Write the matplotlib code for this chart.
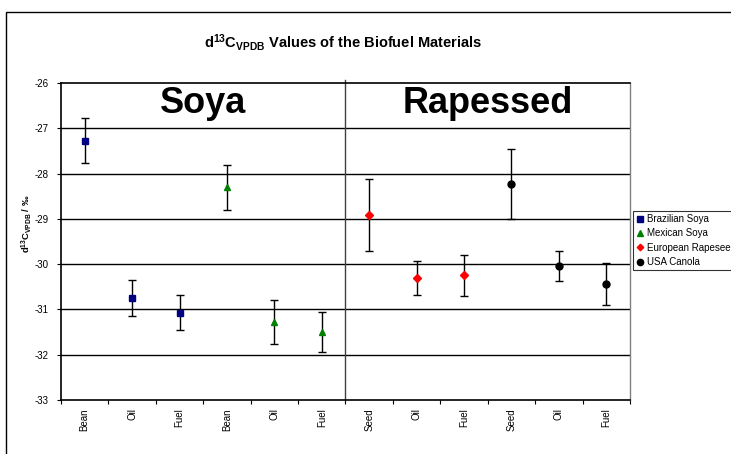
import matplotlib
matplotlib.use("Agg")
import matplotlib.pyplot as plt
from matplotlib.patches import Rectangle
from matplotlib.lines import Line2D

plt.rcParams['font.family'] = ['Liberation Sans', 'DejaVu Sans']
plt.rcParams['mathtext.fontset'] = 'custom'
plt.rcParams['mathtext.rm'] = 'Liberation Sans'
plt.rcParams['mathtext.it'] = 'Liberation Sans:italic'
plt.rcParams['mathtext.bf'] = 'Liberation Sans:bold'

categories = ['Bean', 'Oil', 'Fuel', 'Bean', 'Oil', 'Fuel',
              'Seed', 'Oil', 'Fuel', 'Seed', 'Oil', 'Fuel']

series_names = ['Brazilian Soya', 'Mexican Soya', 'European Rapeseed', 'USA Canola']
brazil_vals = [-27.27, -30.74, -31.07]
brazil_err = [0.50, 0.40, 0.39]
mexico_vals = [-28.30, -31.28, -31.49]
mexico_err = [0.50, 0.48, 0.44]
europe_vals = [-28.91, -30.31, -30.25]
europe_err = [0.80, 0.38, 0.46]
usa_vals = [-28.23, -30.04, -30.44]
usa_err = [0.77, 0.34, 0.47]

group_labels = ['Soya', 'Rapessed']
y_ticks = [-33, -32, -31, -30, -29, -28, -27, -26]

fig = plt.figure(figsize=(7.31, 4.54), dpi=100)
fig.patches.append(Rectangle((6/731, -0.1), 1.2, 1 - 12/454 + 0.1, transform=fig.transFigure,
                             fill=False, edgecolor='black', linewidth=1.0))

ax = fig.add_axes([61/731, 54/454, 569/731, 317/454])

styles = [
    dict(marker='s', color='#000080', ms=5),
    dict(marker='^', color='#008000', ms=5),
    dict(marker='D', color='#FF0000', ms=3.8),
    dict(marker='o', color='black', ms=5),
]
vals = [brazil_vals, mexico_vals, europe_vals, usa_vals]
errs = [brazil_err, mexico_err, europe_err, usa_err]

handles = []
for i, (v, e, st, name) in enumerate(zip(vals, errs, styles, series_names)):
    xs = [i * 3 + k for k in range(len(v))]
    ax.errorbar(xs, v, yerr=e, fmt='none', ecolor='black', elinewidth=1.0,
                capsize=3, capthick=1.0, zorder=3)
    ax.plot(xs, v, linestyle='none', marker=st['marker'], color=st['color'],
            markersize=st['ms'], zorder=4)
    handles.append(Line2D([], [], linestyle='none', marker=st['marker'], color=st['color'],
                          markersize=st['ms'] - 0.5, label=name))

ax.set_xlim(-0.5, len(categories) - 0.5)
ax.set_ylim(-33, -26)
ax.set_yticks(y_ticks)
ax.set_yticklabels([str(t) for t in y_ticks], fontsize=7)
for t in y_ticks[1:-1]:
    ax.axhline(t, color='black', linewidth=1.0, zorder=1)

ax.set_xticks([i - 0.5 for i in range(len(categories) + 1)])
ax.set_xticklabels([])
ax.set_xticks(range(len(categories)), minor=True)
ax.set_xticklabels(categories, minor=True, rotation=90, fontsize=7)
ax.tick_params(axis='x', which='minor', length=0, pad=6)
ax.tick_params(axis='x', which='major', direction='out', length=3, width=0.8)
ax.tick_params(axis='y', direction='out', length=3, width=0.8, pad=6)

for s in ['top', 'left', 'bottom']:
    ax.spines[s].set_color('black')
    ax.spines[s].set_linewidth(1.2)
ax.spines['right'].set_color('#808080')
ax.spines['right'].set_linewidth(1.0)

ax.plot([5.5, 5.5], [-33, -25.93], color='#404040', linewidth=1.0, clip_on=False, zorder=2)

ax.text(2.5, -26.66, group_labels[0], fontsize=26, fontweight='bold', ha='center', va='baseline')
ax.text(8.5, -26.66, group_labels[1], fontsize=26, fontweight='bold', ha='center', va='baseline')

ax.set_ylabel(r'd$^{\mathbf{13}}$C$_{\mathbf{VPDB}}$ / ‰', fontsize=6.8, fontweight='bold')
ax.yaxis.set_label_coords(-(61 - 34) / 569, (400 - 224) / 317)

fig.text(343/731, 1 - 42/454, r'd$^{\mathbf{13}}$C$_{\mathbf{VPDB}}$ Values of the Biofuel Materials',
         fontsize=10.5, fontweight='bold', ha='center', va='center')

leg = fig.legend(handles=handles, loc='upper left', bbox_to_anchor=(633/731, 1 - 211/454),
                 fontsize=7, frameon=True, fancybox=False, edgecolor='black',
                 handlelength=0.8, handletextpad=0.3, borderpad=0.3, labelspacing=0.45,
                 borderaxespad=0)
leg.get_frame().set_linewidth(0.8)

fig.savefig('out.png', dpi=100)
